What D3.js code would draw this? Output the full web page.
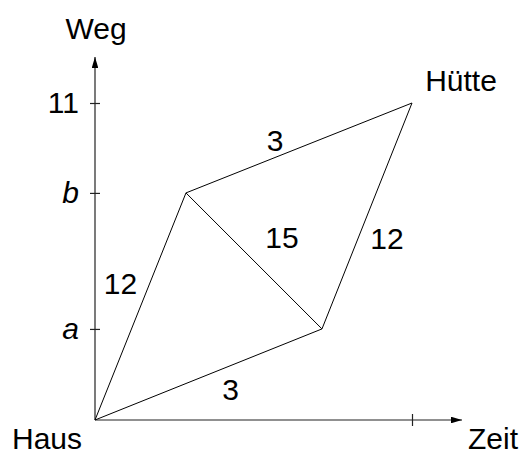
<!DOCTYPE html>
<meta charset="utf-8">
<style>
body { margin: 0; background: #fff; }
text { font-family: "Liberation Sans", Arial, Helvetica, sans-serif; font-size: 30px; fill: #000; }
.axis path, .axis line { stroke: #222; stroke-width: 1.2px; }
.edge { fill: none; stroke: #000; stroke-width: 1px; }
</style>
<body>
<script src="https://d3js.org/d3.v7.min.js"></script>
<script>
// values (time in units of the total time T, distance in km)
var wegTicks = [3.16, 7.88, 11];
var wegLabels = ["a", "b", "11"];
var zeitTicks = [1];

var nodeNames = ["Haus", "P", "Q", "Hütte"];
var nodeZeit = [0, 0.287, 0.716, 1];
var nodeWeg = [0, 7.88, 3.16, 11];

var edgeFrom = [0, 0, 1, 2, 1];
var edgeTo = [1, 2, 3, 3, 2];
var edgeLabels = ["12", "3", "3", "12", "15"];
// label offsets from the middle of each edge
var labelDx = [-20, 22, -24, 20, 28];
var labelDy = [-23, 15, -7, 23, -23];

var width = 523, height = 456;

var x = d3.scaleLinear().domain([0, 1]).range([95, 412]);
var y = d3.scaleLinear().domain([0, 11]).range([420, 103]);

var svg = d3.select("body").append("svg")
    .attr("width", width)
    .attr("height", height);

// arrow heads
svg.append("defs").append("marker")
    .attr("id", "arrow")
    .attr("viewBox", "0 0 10 6")
    .attr("refX", 10).attr("refY", 3)
    .attr("markerWidth", 11).attr("markerHeight", 6.6)
    .attr("markerUnits", "userSpaceOnUse")
    .attr("orient", "auto")
  .append("path")
    .attr("d", "M0,0L10,3L0,6Z")
    .attr("fill", "#000");

// y axis
var yAxis = svg.append("g")
    .attr("class", "axis")
    .attr("transform", "translate(" + x(0) + ",0)")
    .call(d3.axisLeft(y).tickValues(wegTicks)
        .tickFormat(function(d, i) { return wegLabels[i]; })
        .tickSizeOuter(0).tickPadding(10));
yAxis.select(".domain").remove();
yAxis.selectAll(".tick line").attr("x1", -5).attr("x2", 5);
yAxis.selectAll(".tick text")
    .attr("font-size", null).attr("font-family", null)
    .style("font-style", function(d, i) { return wegLabels[i] === "11" ? "normal" : "italic"; });
yAxis.append("line")
    .attr("x1", 0).attr("x2", 0)
    .attr("y1", y(0)).attr("y2", 57)
    .attr("stroke", "#222").attr("stroke-width", 1.2)
    .attr("marker-end", "url(#arrow)");

// x axis
var xAxis = svg.append("g")
    .attr("class", "axis")
    .attr("transform", "translate(0," + y(0) + ")")
    .call(d3.axisBottom(x).tickValues(zeitTicks).tickFormat("").tickSizeOuter(0));
xAxis.select(".domain").remove();
xAxis.selectAll(".tick line").attr("y1", -6).attr("y2", 6);
xAxis.append("line")
    .attr("x1", x(0)).attr("x2", 462)
    .attr("y1", 0).attr("y2", 0)
    .attr("stroke", "#222").attr("stroke-width", 1.2)
    .attr("marker-end", "url(#arrow)");

// edges
var edges = edgeFrom.map(function(f, i) { return {from: f, to: edgeTo[i], label: edgeLabels[i], dx: labelDx[i], dy: labelDy[i]}; });

svg.selectAll(".edge")
    .data(edges)
  .enter().append("line")
    .attr("class", "edge")
    .attr("x1", function(d) { return x(nodeZeit[d.from]); })
    .attr("y1", function(d) { return y(nodeWeg[d.from]); })
    .attr("x2", function(d) { return x(nodeZeit[d.to]); })
    .attr("y2", function(d) { return y(nodeWeg[d.to]); });

svg.selectAll(".elabel")
    .data(edges)
  .enter().append("text")
    .attr("class", "elabel")
    .attr("text-anchor", "middle")
    .attr("dominant-baseline", "central")
    .attr("x", function(d) { return (x(nodeZeit[d.from]) + x(nodeZeit[d.to])) / 2 + d.dx; })
    .attr("y", function(d) { return (y(nodeWeg[d.from]) + y(nodeWeg[d.to])) / 2 + d.dy; })
    .text(function(d) { return d.label; });

// axis titles and place names
svg.append("text").attr("x", x(0) + 1).attr("y", 39).attr("text-anchor", "middle").text("Weg");
svg.append("text").attr("x", 518).attr("y", 449).attr("text-anchor", "end").text("Zeit");
svg.append("text").attr("x", 47).attr("y", 449).attr("text-anchor", "middle").text(nodeNames[0]);
svg.append("text").attr("x", 461).attr("y", 91).attr("text-anchor", "middle").text(nodeNames[3]);
</script>
</body>
